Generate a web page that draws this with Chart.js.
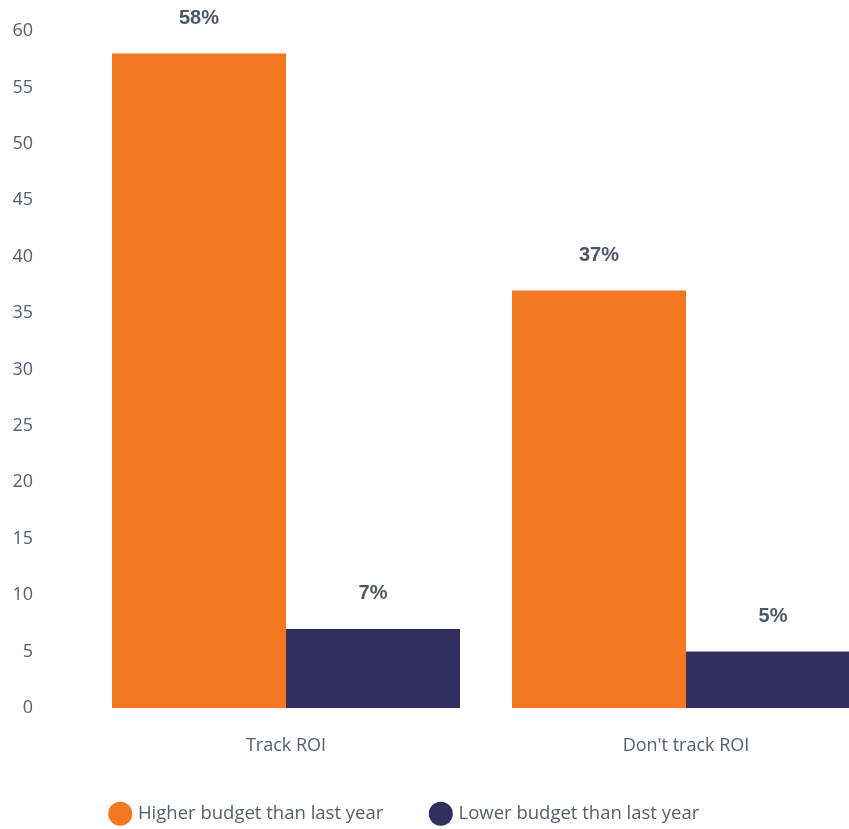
<!DOCTYPE html>
<html>
<head>
<meta charset="utf-8">
<script src="https://cdn.jsdelivr.net/npm/chart.js@4.4.1/dist/chart.umd.min.js"></script>
<style>
  html, body { margin: 0; padding: 0; background: #fff; overflow: hidden; }
  #wrap { width: 886px; height: 829px; }
</style>
</head>
<body>
<div id="wrap"><canvas id="chart"></canvas></div>
<script>
// categories, series and axis ticks
const categories = ['Track ROI', "Don't track ROI"];
const higherBudget = [58, 37];
const lowerBudget = [7, 5];
const seriesNames = ['Higher budget than last year', 'Lower budget than last year'];
const yMin = 0, yMax = 60, yStep = 5;

const textColor = '#53616f';
const valueColor = '#4a5764';
const baseFont = '"Open Sans", sans-serif';

// draws the "58%" style labels above each bar
const valueLabels = {
  id: 'valueLabels',
  afterDatasetsDraw(chart) {
    const ctx = chart.ctx;
    ctx.save();
    ctx.font = 'bold 20px "Liberation Sans", Arial, sans-serif';
    ctx.fillStyle = valueColor;
    ctx.textAlign = 'center';
    ctx.textBaseline = 'middle';
    chart.data.datasets.forEach((ds, i) => {
      chart.getDatasetMeta(i).data.forEach((bar, j) => {
        ctx.fillText(ds.data[j] + '%', bar.x, bar.y - 35.5);
      });
    });
    ctx.restore();
  }
};

new Chart(document.getElementById('chart'), {
  type: 'bar',
  data: {
    labels: categories,
    datasets: [
      { label: seriesNames[0], data: higherBudget, backgroundColor: '#f47721' },
      { label: seriesNames[1], data: lowerBudget, backgroundColor: '#312f5f' }
    ]
  },
  options: {
    responsive: true,
    maintainAspectRatio: false,
    animation: false,
    layout: { padding: { top: 31, left: -75, right: 0, bottom: -4 } },
    datasets: { bar: { categoryPercentage: 0.87, barPercentage: 1 } },
    plugins: {
      tooltip: { enabled: false },
      legend: {
        position: 'bottom',
        labels: {
          usePointStyle: true,
          pointStyle: 'circle',
          boxWidth: 17,
          boxHeight: 17,
          padding: 49,
          color: textColor,
          font: { family: baseFont, size: 18.5 }
        }
      }
    },
    scales: {
      x: {
        grid: { display: false, drawTicks: false },
        border: { display: false },
        ticks: { color: textColor, padding: 27.5, font: { family: baseFont, size: 18 } },
        afterFit(scale) { scale.height = 47.5; }
      },
      y: {
        min: yMin,
        max: yMax,
        grid: { display: false, drawTicks: false },
        border: { display: false },
        ticks: { stepSize: yStep, color: textColor, padding: 53, font: { family: baseFont, size: 18 } },
        afterFit(scale) {
          scale.width = 161;
          scale.paddingTop = 0;
          scale.paddingBottom = 0;
        }
      }
    }
  },
  plugins: [valueLabels]
});
</script>
</body>
</html>
